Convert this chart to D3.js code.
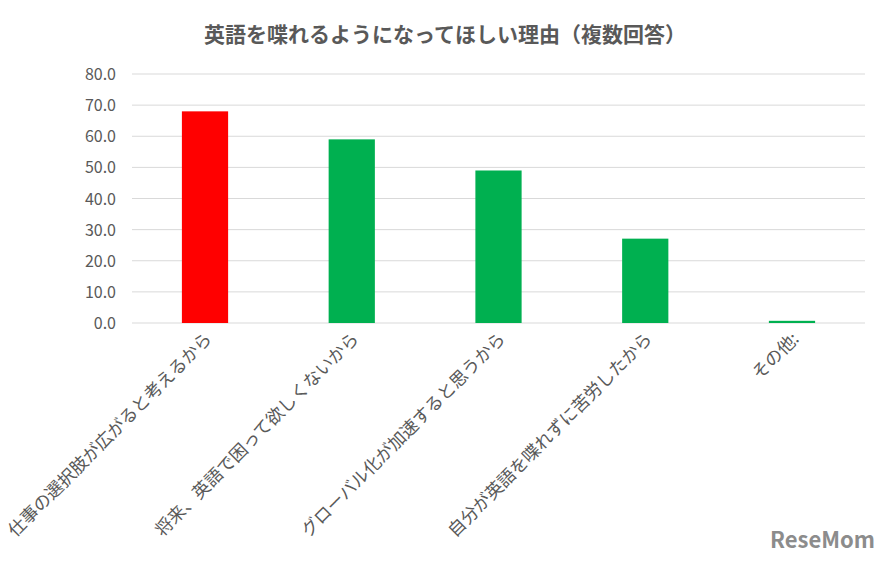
<!DOCTYPE html><html><head><meta charset="utf-8"><script src="https://cdn.jsdelivr.net/npm/d3@7"></script>
<style>body{margin:0;background:#fff}text{font-family:"Noto Sans CJK JP",sans-serif}</style></head><body><svg width="889" height="561"></svg>
<script>
const categories=["仕事の選択肢が広がると考えるから","将来、英語で困って欲しくないから","グローバル化が加速すると思うから","自分が英語を喋れずに苦労したから","その他:"];
const values=[68.0,59.0,49.0,27.1,0.7];
const colors=["#ff0000","#00b050","#00b050","#00b050","#00b050"];
const yTicks=[0,10,20,30,40,50,60,70,80];
const svg=d3.select("svg");
const x=d3.scaleBand().domain(categories).range([132,865]).paddingInner(0.685).paddingOuter(0.34);
const y=d3.scaleLinear().domain([0,80]).range([323,74]);
svg.append("text").attr("x",445).attr("y",42).attr("text-anchor","middle").attr("font-size",21).attr("font-weight","bold").attr("fill","#595959").text("英語を喋れるようになってほしい理由（複数回答）");
svg.append("g").selectAll("line").data(yTicks).join("line").attr("x1",132).attr("x2",865).attr("y1",d=>y(d)).attr("y2",d=>y(d)).attr("stroke","#d9d9d9");
svg.append("g").selectAll("text").data(yTicks).join("text").attr("x",116).attr("y",d=>y(d)+6).attr("text-anchor","end").attr("font-size",16).attr("fill","#595959").text(d=>d.toFixed(1));
svg.append("g").selectAll("rect").data(values).join("rect").attr("x",(d,i)=>x(categories[i])).attr("width",x.bandwidth()).attr("y",d=>y(d)).attr("height",d=>323-y(d)).attr("fill",(d,i)=>colors[i]);
svg.append("g").selectAll("text").data(categories).join("text").attr("text-anchor","end").attr("font-size",17.5).attr("fill","#595959")
 .attr("transform",d=>`translate(${x(d)+x.bandwidth()/2+8},${340}) rotate(-45)`).text(d=>d);
svg.append("text").attr("x",875).attr("y",548).attr("text-anchor","end").attr("font-size",22).attr("font-weight","bold").attr("fill","#8c8c8c").attr("font-family","Arial").text("ReseMom");
</script></body></html>
